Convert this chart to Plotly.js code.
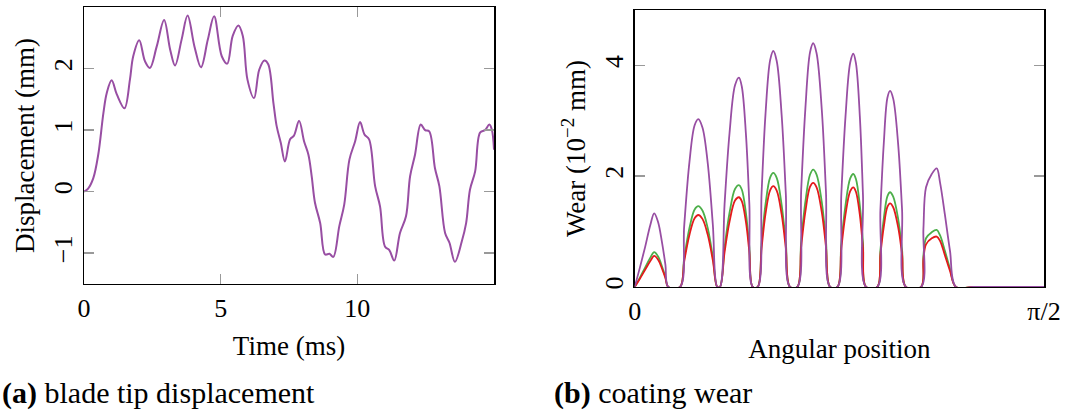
<!DOCTYPE html>
<html>
<head>
<meta charset="utf-8">
<script src="https://cdn.plot.ly/plotly-3.0.1.min.js"></script>
<style>
html,body{margin:0;padding:0;background:#fff;}
#chart{width:1073px;height:412px;}
</style>
</head>
<body>
<div id="chart"></div>
<script>
// ---- (a) blade tip displacement ----
const time = [0,0.15,0.34,0.52,0.71,0.83,1.01,1.20,1.48,1.68,1.80,2.02,2.23,2.41,2.66,2.93,3.15,3.33,3.57,3.79,4.04,4.28,4.53,4.76,5.04,5.24,5.44,5.65,5.81,5.98,6.22,6.41,6.60,6.74,6.93,7.05,7.20,7.35,7.54,7.68,7.87,8.05,8.21,8.33,8.45,8.64,8.82,8.98,9.12,9.34,9.52,9.71,9.92,10.10,10.26,10.43,10.65,10.83,11.01,11.17,11.35,11.56,11.78,11.93,12.11,12.32,12.48,12.63,12.84,13.00,13.21,13.37,13.57,13.82,13.98,14.12,14.31,14.49,14.67,14.83,14.92,15.0];
const displacement = [0,0.05,0.22,0.60,1.28,1.60,1.81,1.58,1.355,1.82,2.20,2.46,2.12,2.01,2.36,2.79,2.31,2.05,2.47,2.86,2.36,2.02,2.47,2.85,2.20,2.08,2.53,2.70,2.53,1.82,1.52,1.98,2.13,2.07,1.44,1.06,0.79,0.49,0.85,0.91,1.15,0.82,0.60,0.25,-0.18,-0.51,-1.02,-1.01,-1.06,-0.56,-0.21,0.52,0.82,1.13,0.93,0.85,0.09,-0.24,-0.89,-0.95,-1.12,-0.67,-0.40,0.25,0.60,1.09,1.00,0.98,0.38,0.09,-0.67,-0.83,-1.14,-0.81,-0.51,0.03,0.33,0.96,1.00,1.09,1.01,0.68];
const timeTicks = [0,5,10];
const dispTicks = [-1,0,1,2];
const dispTickText = ['\u22121','0','1','2'];

// ---- (b) coating wear ----
const angle = [0,0.02,0.04,0.06,0.075,0.09,0.105,0.118,0.129,
  0.174,0.19,0.21,0.23,0.244,0.26,0.28,0.30,0.317,
  0.327,0.345,0.364,0.385,0.400,0.411,0.427,0.440,0.453,
  0.472,0.487,0.502,0.520,0.532,0.545,0.564,0.580,0.596,
  0.624,0.639,0.655,0.673,0.685,0.698,0.718,0.734,0.750,
  0.778,0.793,0.809,0.827,0.839,0.849,0.864,0.876,0.888,
  0.931,0.943,0.956,0.970,0.980,0.992,1.011,1.026,1.041,
  1.099,1.108,1.118,1.140,1.159,1.172,1.190,1.210,1.233,
  1.30,1.40,1.5708];
const wearPurple = [0,0.35,0.72,1.12,1.33,1.17,0.80,0.40,0,
  0,1.10,2.25,2.92,3.03,2.88,2.25,1.12,0,
  0,1.50,2.78,3.64,3.78,3.62,2.75,1.50,0,
  0,1.70,3.12,4.10,4.26,4.08,3.10,1.68,0,
  0,1.75,3.22,4.24,4.40,4.22,3.20,1.72,0,
  0,1.68,3.08,4.05,4.21,4.04,3.08,1.66,0,
  0,1.40,2.60,3.42,3.54,3.40,2.58,1.40,0,
  0,1.05,1.80,2.04,2.14,1.88,1.32,0.65,0,
  0,0,0];
const wearGreen = [0,0.17,0.35,0.53,0.63,0.55,0.37,0.18,0,
  0,0.52,1.06,1.40,1.46,1.38,1.07,0.54,0,
  0,0.72,1.34,1.77,1.84,1.76,1.33,0.72,0,
  0,0.80,1.49,1.98,2.06,1.97,1.48,0.80,0,
  0,0.83,1.54,2.03,2.12,2.03,1.53,0.83,0,
  0,0.80,1.48,1.96,2.04,1.95,1.47,0.80,0,
  0,0.67,1.24,1.64,1.71,1.63,1.23,0.67,0,
  0,0.57,0.88,0.99,1.03,0.93,0.66,0.33,0,
  0,0,0];
const wearRed = [0,0.15,0.31,0.47,0.56,0.49,0.33,0.16,0,
  0,0.46,0.94,1.24,1.30,1.23,0.95,0.48,0,
  0,0.63,1.18,1.56,1.62,1.55,1.17,0.63,0,
  0,0.70,1.32,1.75,1.82,1.74,1.31,0.70,0,
  0,0.73,1.36,1.81,1.88,1.80,1.35,0.73,0,
  0,0.70,1.31,1.73,1.80,1.72,1.30,0.70,0,
  0,0.59,1.09,1.45,1.51,1.44,1.08,0.59,0,
  0,0.50,0.77,0.88,0.91,0.83,0.58,0.29,0,
  0,0,0];
const angleTicks = [0, Math.PI/2];
const angleTickText = ['0','\u03C0/2'];
const wearTicks = [0,2,4];

const PURPLE = '#984ea3', GREEN = '#4daf4a', RED = '#e41a1c';
const FONT = 'Liberation Serif';
const TICK = 26, TITLE = 27, CAPTION = 30;

const traces = [
  {x: time, y: displacement, xaxis:'x', yaxis:'y', mode:'lines', line:{color:PURPLE, width:2, shape:'spline', smoothing:1}, hoverinfo:'skip'},
  {x: angle, y: wearGreen, xaxis:'x2', yaxis:'y2', mode:'lines', line:{color:GREEN, width:1.8, shape:'spline', smoothing:1}, hoverinfo:'skip'},
  {x: angle, y: wearRed, xaxis:'x2', yaxis:'y2', mode:'lines', line:{color:RED, width:1.8, shape:'spline', smoothing:1}, hoverinfo:'skip'},
  {x: angle, y: wearPurple, xaxis:'x2', yaxis:'y2', mode:'lines', line:{color:PURPLE, width:1.8, shape:'spline', smoothing:1}, hoverinfo:'skip'}
];

function ax(extra){
  return Object.assign({
    showgrid:false, zeroline:false, showline:true, linecolor:'#000', linewidth:1.5,
    mirror:'ticks', ticks:'inside', ticklen:10, tickcolor:'#999', tickwidth:1.5,
    tickfont:{family:FONT, size:TICK, color:'#000'}
  }, extra);
}

const layout = {
  width:1073, height:412,
  margin:{l:0,r:0,t:0,b:0},
  paper_bgcolor:'#fff', plot_bgcolor:'#fff',
  showlegend:false,
  xaxis: ax({
    domain:[0.0783,0.4604], range:[0,15], tickmode:'array', tickvals:timeTicks,
    title:{text:'Time (ms)', font:{family:FONT,size:TITLE,color:'#000'}, standoff:14}, anchor:'y'
  }),
  yaxis: ax({
    domain:[0.3107,0.983], range:[-1.5,3], tickmode:'array', tickvals:dispTicks, ticktext:dispTickText,
    tickangle:-90, title:{text:'Displacement (mm)', font:{family:FONT,size:TITLE,color:'#000'}, standoff:6}, anchor:'x'
  }),
  xaxis2: ax({
    domain:[0.5915,0.973], range:[0,Math.PI/2], tickmode:'array', tickvals:angleTicks, ticktext:angleTickText,
    title:{text:'Angular position', font:{family:FONT,size:TITLE,color:'#000'}, standoff:14}, anchor:'y2', layer:'below traces'
  }),
  yaxis2: ax({
    domain:[0.3034,0.9757], range:[0,5], tickmode:'array', tickvals:wearTicks,
    tickangle:-90, title:{text:'Wear (10<sup>\u22122</sup> mm)', font:{family:FONT,size:TITLE,color:'#000'}, standoff:6}, anchor:'x2', layer:'below traces'
  }),
  annotations:[
    {xref:'paper', yref:'paper', x:0, y:0.046, xanchor:'left', yanchor:'middle', showarrow:false,
     text:'<b>(a)</b> blade tip displacement', font:{family:FONT, size:CAPTION, color:'#000'}},
    {xref:'paper', yref:'paper', x:0.514, y:0.046, xanchor:'left', yanchor:'middle', showarrow:false,
     text:'<b>(b)</b> coating wear', font:{family:FONT, size:CAPTION, color:'#000'}}
  ]
};

Plotly.newPlot('chart', traces, layout, {staticPlot:true, displayModeBar:false});
</script>
</body>
</html>
